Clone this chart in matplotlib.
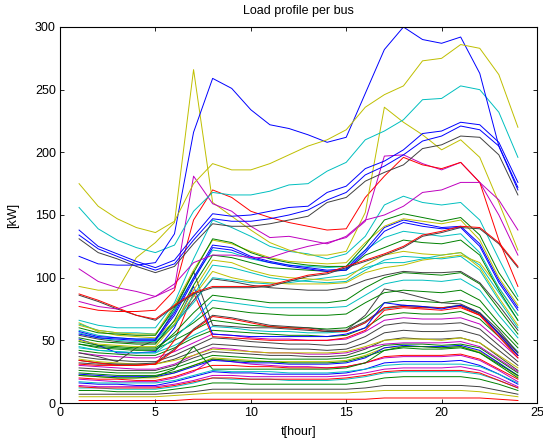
import matplotlib
matplotlib.use("Agg")
import matplotlib.pyplot as plt

plt.rcParams['font.family'] = ['Liberation Sans', 'DejaVu Sans']

hours = list(range(1, 25))

# ---- load profiles (kW) per bus ----
bus_y_top   = [175,157,147,140,136,145,175,191,186,186,191,198,205,210,218,236,246,253,273,275,286,283,262,220]
bus_b_peak  = [117,111,110,110,112,135,216,259,251,234,222,219,214,208,212,247,282,300,290,287,292,263,205,170]
bus_c_top   = [156,139,130,124,120,126,153,168,166,166,169,174,175,185,192,210,217,226,242,243,253,250,232,196]
bus_b_a     = [138,125,119,113,108,114,133,151,149,150,153,156,157,168,173,187,193,202,215,217,224,222,208,176]
bus_b_b     = [134,123,117,111,106,111,130,147,145,145,147,150,154,162,168,182,189,198,209,213,221,218,205,172]
bus_k_c     = [131,120,115,109,104,109,127,143,141,141,143,146,149,160,164,177,184,190,203,206,213,212,198,166]
bus_m_spike = [107,97,92,89,85,92,181,159,153,141,132,133,130,127,133,146,150,157,168,170,176,176,162,138]
bus_y_spike = [93,90,90,116,128,144,266,160,149,138,128,122,118,118,121,152,236,224,214,202,210,196,160,122]
bus_r_peak  = [77,74,73,73,74,90,146,170,164,153,148,144,141,138,139,164,181,196,190,187,192,176,130,93]
bus_m_peak  = [81,77,75,80,85,95,112,118,118,116,116,121,125,128,132,145,197,198,191,186,192,176,150,118]
bus_r_dark  = [87,82,76,70,67,78,88,93,93,93,94,98,102,104,109,114,119,125,134,137,141,140,128,109]
bus_k_dark  = [86,81,75,70,66,77,87,92,92,92,93,97,101,103,108,113,118,124,133,136,140,139,127,108]
bus_c_2     = [66,62,60,60,60,80,115,146,140,133,125,121,119,115,119,133,158,165,160,158,160,146,115,85]
bus_g_m1    = [60,56,55,54,54,76,104,131,128,120,115,112,110,109,109,126,146,151,148,145,148,134,104,82]
bus_y_m2    = [62,58,56,55,55,78,106,130,127,121,116,113,112,111,112,128,141,147,145,143,146,130,100,78]
bus_b_m3    = [57,53,52,51,51,72,100,126,124,117,113,110,108,106,107,122,140,146,143,140,141,127,98,76]
bus_b_m4    = [55,52,51,50,50,70,98,124,122,116,112,109,107,105,106,120,137,144,141,139,140,125,96,74]
bus_c_m5    = [63,58,56,56,55,74,100,122,120,115,112,110,109,108,109,122,132,137,135,133,135,120,92,70]
bus_g_m6    = [52,49,48,47,47,66,94,118,116,112,108,107,106,105,106,118,124,130,128,127,130,118,90,66]
bus_y_m7    = [50,47,46,45,45,63,90,114,112,106,102,100,99,98,99,110,118,121,119,118,120,108,84,62]
bus_c_m8    = [56,52,50,49,49,62,86,110,108,104,100,98,97,96,97,106,114,117,116,115,117,106,82,60]
bus_y_m9    = [64,57,54,53,52,65,85,105,100,97,96,95,95,95,96,104,108,110,114,116,118,112,92,70]
bus_c_m10   = [58,54,52,51,51,63,80,100,98,96,95,96,98,100,102,108,112,112,115,118,120,110,88,66]
bus_k_m11   = [54,51,49,48,48,62,82,99,97,94,92,91,90,90,92,98,102,105,104,104,105,96,78,58]
bus_g_m12   = [47,44,43,42,42,56,72,86,84,82,80,80,80,80,82,92,100,104,103,102,104,95,75,55]
bus_c_m13   = [45,42,41,40,40,52,66,82,80,78,76,76,76,76,77,86,95,98,98,97,99,90,70,52]
bus_g_m14   = [49,46,45,44,44,54,64,76,74,72,71,70,70,70,71,80,88,90,89,88,90,82,64,47]
bus_k_spk   = [40,37,33,44,50,74,105,62,61,60,60,59,58,57,58,70,91,88,84,80,79,72,58,40]
bus_b_spk   = [51,46,40,40,41,60,93,55,54,53,53,53,53,53,55,60,80,78,77,75,78,72,55,38]
bus_r_spk   = [34,32,30,30,31,50,88,53,52,51,50,50,50,50,52,58,74,76,75,74,76,70,53,36]
bus_g_spk   = [22,21,20,20,21,27,45,27,27,27,27,27,27,27,28,32,42,45,45,44,45,40,30,20]
bus_r_thick = [31,30,30,30,31,42,58,69,67,64,61,60,59,57,57,64,76,77,76,76,77,70,55,38]
bus_k_thick = [32,31,31,31,32,43,59,70,68,65,62,61,60,58,58,65,76,78,77,76,78,71,56,40]
bus_g_l1    = [47,45,44,43,43,50,58,66,64,62,61,60,60,59,60,68,80,82,81,80,82,76,60,44]
bus_c_l2    = [44,42,41,40,40,46,54,61,60,58,57,57,56,56,57,64,75,77,76,76,78,71,56,41]
bus_g_l3    = [42,40,39,38,38,44,52,58,57,56,55,54,54,53,54,60,70,72,71,71,73,67,53,38]
bus_m_l4    = [40,38,37,36,36,41,48,55,54,52,51,51,50,50,51,57,66,68,67,67,68,63,50,36]
bus_k_l5    = [37,35,34,33,33,38,45,52,51,49,48,47,47,46,47,53,62,64,63,63,64,59,46,33]
bus_y_l6    = [35,33,32,31,31,34,38,43,42,41,40,40,40,40,41,45,50,51,51,50,52,48,38,28]
bus_k_l7    = [34,32,31,31,31,35,41,47,46,45,44,43,43,42,43,48,56,58,57,57,58,54,42,30]
bus_m_l8    = [30,29,28,27,27,31,38,44,43,41,40,40,39,39,40,44,47,48,48,48,49,45,35,25]
bus_k_l9    = [28,27,26,26,26,30,36,41,40,39,38,38,37,37,38,43,50,52,51,51,52,48,37,26]
bus_g_l10   = [26,25,24,24,24,28,33,38,37,36,35,35,35,35,36,40,46,47,47,46,47,44,34,24]
bus_g_l11   = [24,23,22,22,22,25,30,35,34,33,33,32,32,32,33,37,42,44,43,43,44,40,31,22]
bus_b_l12   = [23,22,21,21,21,24,29,34,33,32,32,31,31,31,32,36,44,46,45,45,46,42,32,22]
bus_y_l13   = [22,21,20,20,20,24,30,36,35,34,33,33,33,33,34,38,44,45,45,44,45,41,32,21]
bus_r_l14   = [20,19,19,18,18,21,26,30,30,29,29,28,28,28,29,32,37,38,38,38,39,35,27,19]
bus_m_l15   = [19,18,17,17,17,20,25,35,33,31,30,29,29,28,29,32,36,37,37,37,38,34,26,17]
bus_c_l16   = [17,16,16,16,16,18,22,26,25,25,25,24,24,24,25,27,30,31,31,31,31,29,23,16]
bus_b_l17   = [16,15,15,14,14,17,21,25,24,24,23,23,23,23,24,27,32,33,33,33,34,30,23,15]
bus_m_l18   = [14,13,13,13,13,15,18,22,22,21,21,21,21,21,22,24,27,28,28,28,29,26,20,13]
bus_r_l19   = [13,12,12,12,12,14,17,20,20,19,19,19,19,19,20,22,25,26,26,26,26,24,18,12]
bus_c_l20   = [12,12,11,11,11,13,16,20,19,19,19,18,18,18,19,21,24,25,25,25,25,23,18,12]
bus_g_l21   = [10,10,9,9,9,11,13,16,16,15,15,15,15,15,15,17,20,21,21,21,21,19,15,10]
bus_k_l22   = [7,7,7,7,7,8,9,11,11,11,11,11,11,11,11,12,14,14,14,14,14,13,10,7]
bus_y_l23   = [5,5,5,5,5,6,7,8,8,8,8,8,8,8,8,9,10,10,10,10,10,9,7,5]
bus_r_l24   = [2,2,2,2,2,2,3,3,3,3,3,3,3,3,3,3,4,4,4,4,4,4,3,2]
bus_c_l25   = [0,0,0,0,0,0,0,0,0,0,0,0,0,0,0,0,0,0,0,0,0,0,0,0]
bus_g_l26   = [0,0,0,0,0,0,0,0,0,0,0,0,0,0,0,0,0,0,0,0,0,0,0,0]

# ---- style ----
MCOL = {'b': (0, 0, 1), 'g': (0, 0.5, 0), 'r': (1, 0, 0), 'c': (0, 0.75, 0.75),
        'm': (0.75, 0, 0.75), 'y': (0.75, 0.75, 0), 'k': (0.25, 0.25, 0.25)}

series = [
    (bus_g_l26, 'g'), (bus_c_l25, 'c'), (bus_r_l24, 'r'), (bus_y_l23, 'y'), (bus_k_l22, 'k'),
    (bus_g_l21, 'g'), (bus_c_l20, 'c'), (bus_r_l19, 'r'), (bus_m_l18, 'm'), (bus_b_l17, 'b'),
    (bus_c_l16, 'c'), (bus_m_l15, 'm'), (bus_r_l14, 'r'), (bus_y_l13, 'y'), (bus_b_l12, 'b'),
    (bus_g_l11, 'g'), (bus_g_l10, 'g'), (bus_k_l9, 'k'), (bus_m_l8, 'm'), (bus_k_l7, 'k'),
    (bus_y_l6, 'y'), (bus_k_l5, 'k'), (bus_m_l4, 'm'), (bus_g_l3, 'g'), (bus_c_l2, 'c'),
    (bus_g_l1, 'g'), (bus_k_thick, 'k'), (bus_r_thick, 'r'), (bus_g_spk, 'g'), (bus_r_spk, 'r'),
    (bus_b_spk, 'b'), (bus_k_spk, 'k'), (bus_g_m14, 'g'), (bus_c_m13, 'c'), (bus_g_m12, 'g'),
    (bus_k_m11, 'k'), (bus_c_m10, 'c'), (bus_y_m9, 'y'), (bus_c_m8, 'c'), (bus_y_m7, 'y'),
    (bus_g_m6, 'g'), (bus_c_m5, 'c'), (bus_b_m4, 'b'), (bus_b_m3, 'b'), (bus_y_m2, 'y'),
    (bus_g_m1, 'g'), (bus_c_2, 'c'), (bus_k_dark, 'k'), (bus_r_dark, 'r'), (bus_m_peak, 'm'),
    (bus_r_peak, 'r'), (bus_y_spike, 'y'), (bus_m_spike, 'm'), (bus_k_c, 'k'), (bus_b_b, 'b'),
    (bus_b_a, 'b'), (bus_c_top, 'c'), (bus_b_peak, 'b'), (bus_y_top, 'y'),
]

fig = plt.figure(figsize=(5.43, 4.47), dpi=100)
ax = fig.add_axes([60/543, 1-403/447, 477/543, 376/447])

for vals, col in series:
    ax.plot(hours, vals, color=MCOL[col], lw=0.7)

ax.set_xlim(0, 25)
ax.set_ylim(0, 300)
ax.set_xticks(range(0, 26, 5))
ax.set_yticks(range(0, 301, 50))
ax.tick_params(direction='in', top=True, right=True, labelsize=9, length=3, width=0.6, pad=3)
for s in ax.spines.values():
    s.set_linewidth(0.8)
ax.set_title('Load profile per bus', fontsize=9, pad=9)
ax.set_xlabel('t[hour]', fontsize=9, labelpad=5)
ax.set_ylabel('[kW]', fontsize=9, labelpad=11)

fig.savefig('out.png', dpi=100)
